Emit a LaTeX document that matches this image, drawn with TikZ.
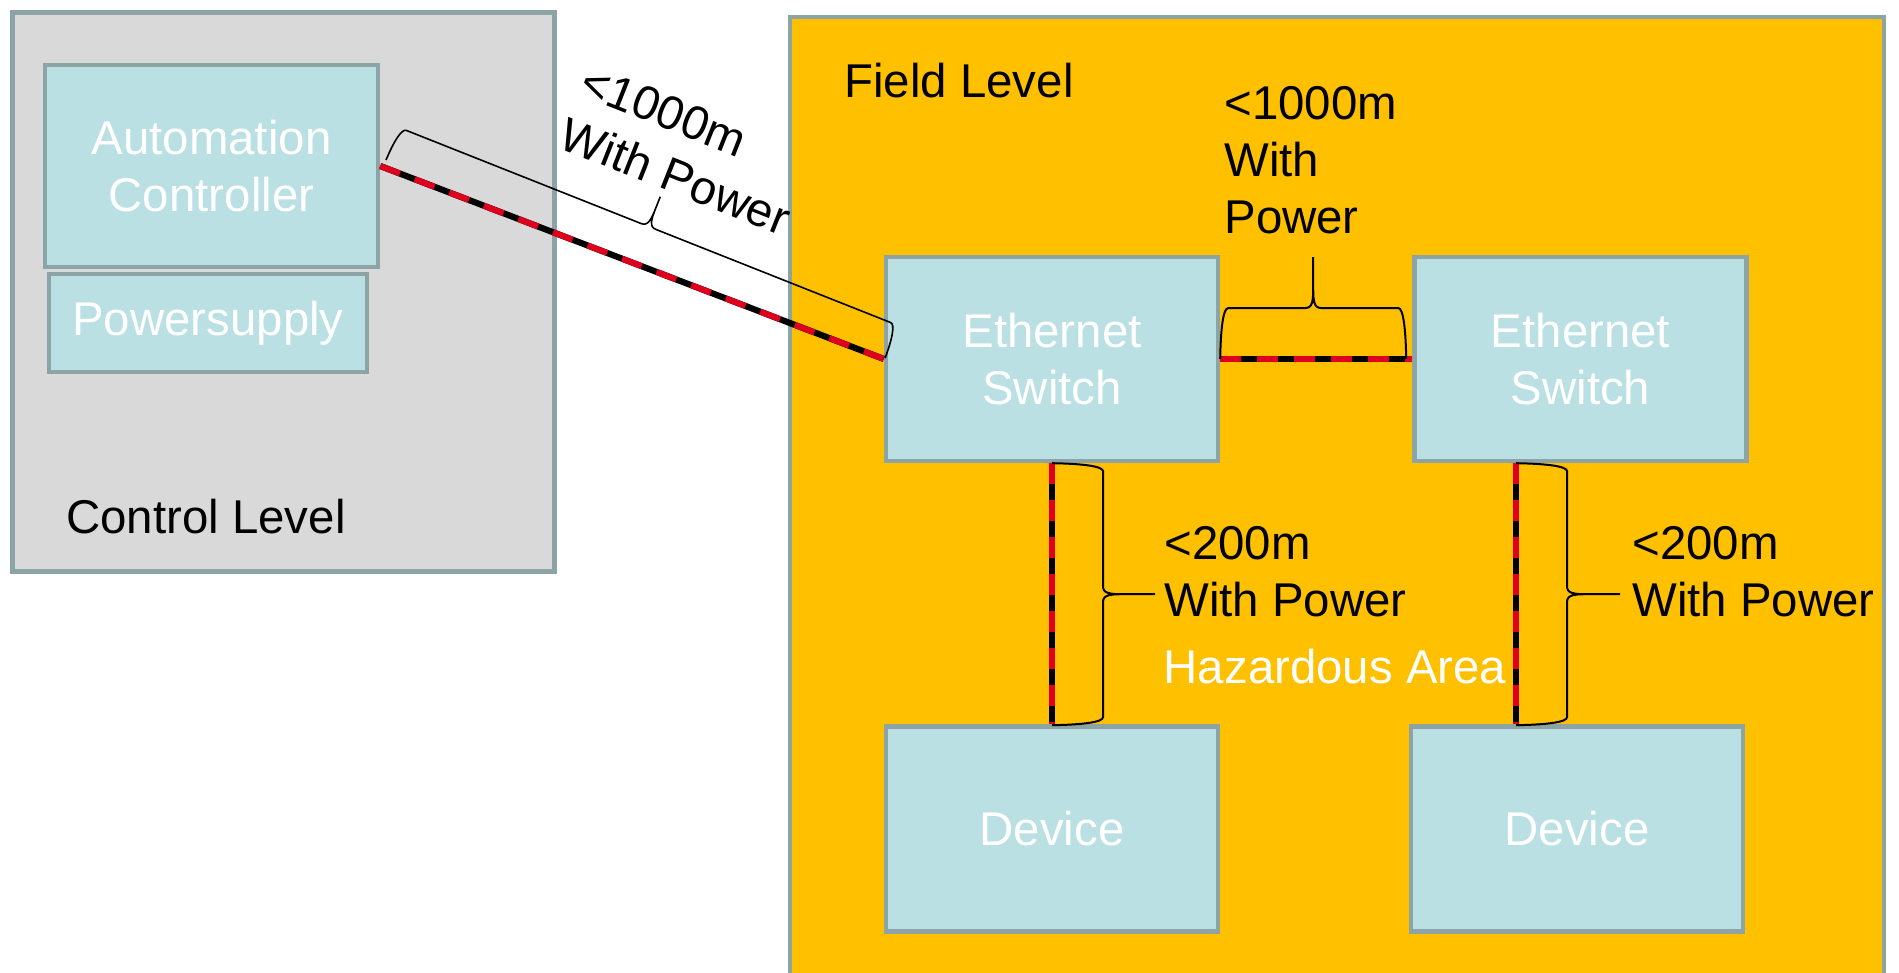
\documentclass[tikz,border=0pt]{standalone}
\usepackage{fontspec}
\setmainfont{Liberation Sans}
\definecolor{ctrlgray}{HTML}{D9D9D9}
\definecolor{edgegray}{HTML}{8CA4A6}
\definecolor{boxblue}{HTML}{BAE0E3}
\definecolor{fieldorange}{HTML}{FFC000}
\definecolor{cablered}{RGB}{222,0,28}
\newcommand\bracepath[3]{%
  (0,0) .. controls (0.5,{-0.6*#2}) and (3,-#2) .. (8,-#2)
  -- ({#1/2-8},-#2) .. controls ({#1/2-1},-#2) and ({#1/2},{-#2-6}) .. ({#1/2},{-#2-20})
  -- ({#1/2},-#3) -- ({#1/2},{-#2-20})
  .. controls ({#1/2},{-#2-6}) and ({#1/2+1},-#2) .. ({#1/2+8},-#2)
  -- ({#1-8},-#2) .. controls ({#1-3},-#2) and ({#1-0.5},{-0.6*#2}) .. (#1,0)}
\tikzset{
  every node/.style={font=\fontsize{23.7}{28.5}\selectfont, inner sep=0pt},
  container/.style={draw=edgegray, line width=2.4pt, rectangle},
  unit/.style={draw=edgegray, fill=boxblue, line width=2.2pt, rectangle, text=white, align=center},
  label/.style={text=black, align=left},
  cableb/.style={draw=black, line width=3.1pt},
  cabler/.style={draw=cablered, line width=3pt, dash pattern=on 10.5pt off 8pt},
  bracestyle/.style={draw=black, line width=1pt},
}
\begin{document}
\begin{tikzpicture}[x=0.5pt, y=-0.5pt]
\useasboundingbox (0,0) rectangle (1899,973);
% containers
\node[container, fill=ctrlgray, minimum width=271pt, minimum height=279.5pt] (ctrl) at (283.5,292) {};
\node[container, fill=fieldorange, minimum width=547pt, minimum height=491.5pt] (field) at (1337,508.5) {};
\node[label] (ctrllbl) at (206,517) {Control Level};
\node[label] (fieldlbl) at (959,81) {Field Level};
% units
\node[unit, minimum width=159pt, minimum height=49pt] (psu) at (208,323) {Powersupply};
\node[unit, minimum width=166.5pt, minimum height=101pt] (ac) at (211.5,166) {Automation\\Controller};
\node[unit, minimum width=166pt, minimum height=102pt] (sw1) at (1052,359) {Ethernet\\Switch};
\node[unit, minimum width=166pt, minimum height=102pt] (sw2) at (1580.5,359) {Ethernet\\Switch};
\node[unit, minimum width=166pt, minimum height=102.5pt] (dev1) at (1052,829) {Device};
\node[unit, minimum width=166pt, minimum height=102.5pt] (dev2) at (1577,829) {Device};
% cables
\coordinate (c2x) at (1516,0);
\foreach \s in {cableb,cabler}{
  \draw[\s] (ac.east) -- (sw1.west);
  \draw[\s] (sw1.east) -- (sw2.west);
  \draw[\s] (sw1.south) -- (dev1.north);
  \draw[\s] (sw2.south -| c2x) -- (dev2.north -| c2x);
}
% braces
\coordinate (bd) at (386,160);
\begin{scope}[shift={(bd)}, rotate=-21.64]
  \draw[bracestyle, line width=0.8pt] \bracepath{537}{35}{67};
\end{scope}
\begin{scope}[shift={(sw1.east)}]
  \draw[bracestyle] \bracepath{186}{51}{102};
\end{scope}
\begin{scope}[shift={(sw1.south)}, rotate=-90]
  \draw[bracestyle] \bracepath{262}{51}{103};
\end{scope}
\begin{scope}[shift={(sw2.south -| c2x)}, rotate=-90]
  \draw[bracestyle] \bracepath{262}{51}{104};
\end{scope}
% labels
\node[label, rotate=-21.6] (l1) at (686,150) {<1000m\\With Power};
\node[label, anchor=west] (l2) at (1224,160) {<1000m\\With\\Power};
\node[label, anchor=west] (l3) at (1164,572) {<200m\\With Power};
\node[label, anchor=west] (l4) at (1632,572) {<200m\\With Power};
\node[text=white] (haz) at (1335,667) {Hazardous Area};
\end{tikzpicture}
\end{document}
